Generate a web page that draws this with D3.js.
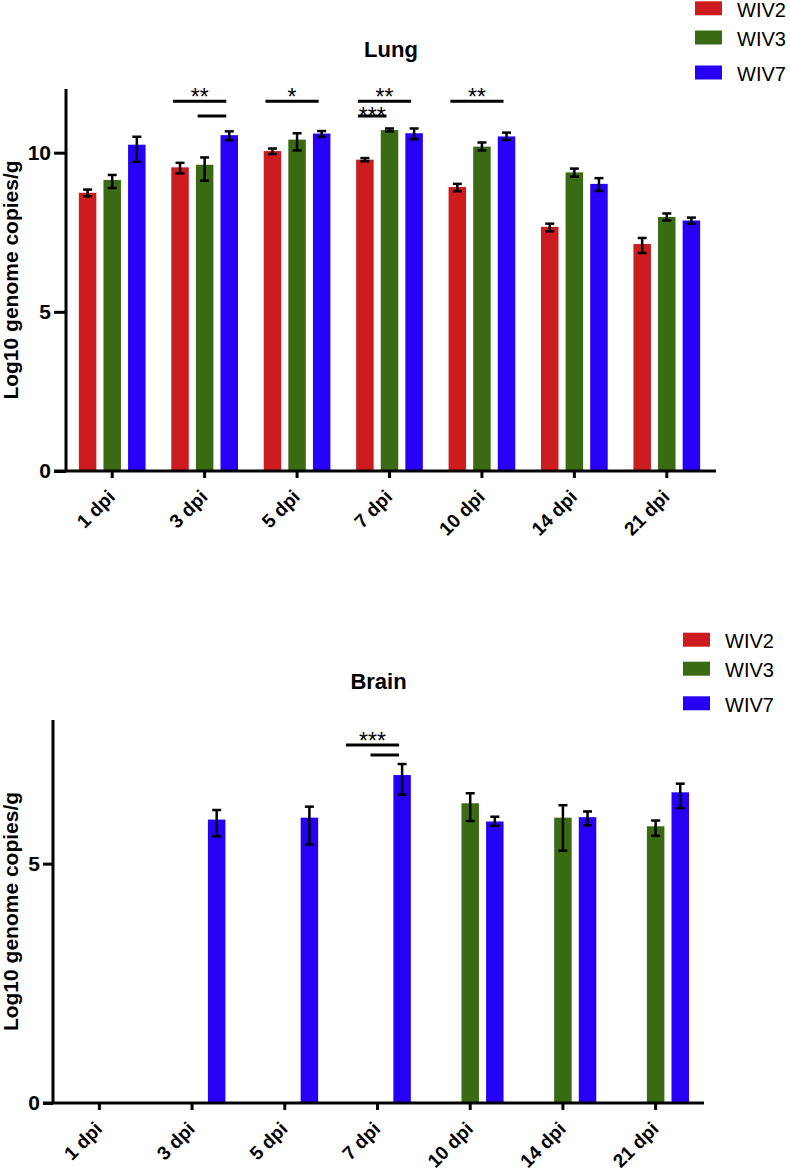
<!DOCTYPE html>
<html><head><meta charset="utf-8">
<script src="https://cdn.jsdelivr.net/npm/d3@7"></script>
<style>
body{margin:0;background:#fff}
svg{display:block}
text{font-family:"Liberation Sans",Arial,Helvetica,sans-serif;fill:#000}
</style>
</head><body>
<svg id="chart" width="790" height="1173"></svg>
<script>
// ---------- data ----------
const categories = ["1 dpi","3 dpi","5 dpi","7 dpi","10 dpi","14 dpi","21 dpi"];
const seriesNames = ["WIV2","WIV3","WIV7"];
const seriesColors = ["#cc1c1f","#3a6b13","#2700f7"];
const yTicksLung = [0,5,10];
const yTicksBrain = [0,5];
const yLabel = "Log10 genome copies/g";

// Lung: bar means, error-bar lower and upper ends
const lungWIV2   = [8.74, 9.54, 10.05, 9.78, 8.92, 7.67, 7.13];
const lungWIV2Lo = [8.63, 9.35, 9.96, 9.73, 8.79, 7.53, 6.85];
const lungWIV2Hi = [8.84, 9.68, 10.13, 9.83, 9.02, 7.77, 7.32];
const lungWIV3   = [9.14, 9.62, 10.41, 10.71, 10.19, 9.38, 7.98];
const lungWIV3Lo = [8.89, 9.12, 10.07, 10.67, 10.07, 9.25, 7.87];
const lungWIV3Hi = [9.30, 9.85, 10.61, 10.76, 10.32, 9.50, 8.09];
const lungWIV7   = [10.25, 10.55, 10.60, 10.61, 10.51, 9.02, 7.87];
const lungWIV7Lo = [9.71, 10.39, 10.50, 10.42, 10.40, 8.80, 7.77];
const lungWIV7Hi = [10.50, 10.67, 10.68, 10.76, 10.63, 9.20, 7.96];

// Brain (null = not detected)
const brainWIV2   = [null, null, null, null, null, null, null];
const brainWIV2Lo = [null, null, null, null, null, null, null];
const brainWIV2Hi = [null, null, null, null, null, null, null];
const brainWIV3   = [null, null, null, null, 6.26, 5.96, 5.78];
const brainWIV3Lo = [null, null, null, null, 5.89, 5.27, 5.58];
const brainWIV3Hi = [null, null, null, null, 6.47, 6.22, 5.90];
const brainWIV7   = [null, 5.92, 5.96, 6.85, 5.88, 5.97, 6.49];
const brainWIV7Lo = [null, 5.57, 5.40, 6.44, 5.79, 5.80, 6.16];
const brainWIV7Hi = [null, 6.12, 6.19, 7.08, 5.98, 6.09, 6.67];

// significance brackets: category, from-series, to-series, tier, label
const lungSig = [
  {cat:"3 dpi",  from:"WIV2", to:"WIV7", tier:0, label:"**"},
  {cat:"3 dpi",  from:"WIV3", to:"WIV7", tier:1, label:""},
  {cat:"5 dpi",  from:"WIV2", to:"WIV7", tier:0, label:"*"},
  {cat:"7 dpi",  from:"WIV2", to:"WIV7", tier:0, label:"**"},
  {cat:"7 dpi",  from:"WIV2", to:"WIV3", tier:1, label:"***"},
  {cat:"10 dpi", from:"WIV2", to:"WIV7", tier:0, label:"**"}
];
const brainSig = [
  {cat:"7 dpi", from:"WIV2", to:"WIV7", tier:0, label:"***"},
  {cat:"7 dpi", from:"WIV3", to:"WIV7", tier:1, label:""}
];

// ---------- drawing ----------
const svg = d3.select("#chart");
const FF = '"Liberation Sans",Arial,Helvetica,sans-serif';

function panel(o) {
  const g = svg.append("g");
  const x = d3.scaleBand().domain(categories).range([o.x0, o.x1]);
  const xs = d3.scaleBand().domain(seriesNames).range([-33.35, 33.35]).paddingInner(0.289);
  const y = d3.scaleLinear().domain([0, o.yMax]).range([o.yBottom, o.yTop]);
  const cx = c => x(c) + x.bandwidth() / 2;
  const sx = s => xs(s) + xs.bandwidth() / 2;

  // bars
  seriesNames.forEach((s, si) => {
    const rows = categories.map((c, i) => ({c, v: o.means[si][i], lo: o.lo[si][i], hi: o.hi[si][i]}))
      .filter(d => d.v != null);
    g.append("g").selectAll("rect").data(rows).join("rect")
      .attr("x", d => cx(d.c) + xs(s))
      .attr("y", d => y(d.v))
      .attr("width", xs.bandwidth())
      .attr("height", d => y(0) - y(d.v))
      .attr("fill", seriesColors[si]);
    const eb = g.append("g").attr("stroke", "#000").attr("stroke-width", 2.5).attr("fill", "none");
    rows.forEach(d => {
      const px = cx(d.c) + sx(s);
      eb.append("line").attr("x1", px).attr("x2", px).attr("y1", y(d.lo)).attr("y2", y(d.hi));
      eb.append("line").attr("x1", px - 4.5).attr("x2", px + 4.5).attr("y1", y(d.lo)).attr("y2", y(d.lo));
      eb.append("line").attr("x1", px - 4.5).attr("x2", px + 4.5).attr("y1", y(d.hi)).attr("y2", y(d.hi));
    });
  });

  // y axis
  const ya = g.append("g").attr("transform", `translate(${o.x0},0)`)
    .call(d3.axisLeft(y).tickValues(o.ticks).tickSize(o.tickLen).tickPadding(3).tickSizeOuter(0));
  ya.select(".domain").attr("d", `M0,${o.yBottom}V${o.yTop}`).attr("stroke-width", 3);
  ya.selectAll(".tick line").attr("stroke-width", 3);
  ya.selectAll(".tick text").attr("font-size", 21).attr("font-weight", "bold").attr("font-family", FF);

  // x axis
  const xa = g.append("g").attr("transform", `translate(0,${o.yBottom})`)
    .call(d3.axisBottom(x).tickSize(7).tickSizeOuter(0));
  xa.select(".domain").attr("d", `M${o.x0 - o.tickLen},0H${o.axisRight}`).attr("stroke-width", 3);
  xa.selectAll(".tick line").attr("stroke-width", 3);
  xa.selectAll(".tick text")
    .attr("font-size", 19).attr("font-weight", "bold").attr("font-family", FF)
    .attr("text-anchor", "end").attr("x", 0).attr("y", 0).attr("dy", null)
    .attr("transform", "translate(4,27) rotate(-45)");

  // y label
  g.append("text")
    .attr("transform", `translate(18,${(o.yTop + o.yBottom) / 2}) rotate(-90)`)
    .attr("text-anchor", "middle").attr("font-size", 21).attr("font-weight", "bold")
    .text(yLabel);

  // title
  g.append("text").attr("x", (o.x0 + o.axisRight) / 2).attr("y", o.titleY)
    .attr("text-anchor", "middle").attr("font-size", 22).attr("font-weight", "bold")
    .text(o.title);

  // significance
  o.sig.forEach(d => {
    const xa1 = cx(d.cat) + sx(d.from) - 7;
    const xb1 = cx(d.cat) + sx(d.to) - 3;
    const ly = o.sigY[d.tier];
    g.append("line").attr("x1", xa1).attr("x2", xb1).attr("y1", ly).attr("y2", ly)
      .attr("stroke", "#000").attr("stroke-width", 3);
    if (d.label) {
      g.append("text").attr("x", (xa1 + xb1) / 2).attr("y", ly + (d.tier === 0 ? 3.8 : 8.3))
        .attr("text-anchor", "middle").attr("font-size", 23).text(d.label);
    }
  });

  // legend
  seriesNames.forEach((s, i) => {
    const cy = o.legendY[i];
    g.append("rect").attr("x", o.legendX).attr("y", cy - 7).attr("width", 27).attr("height", 14)
      .attr("fill", seriesColors[i]);
    g.append("text").attr("x", o.legendX + 42).attr("y", cy + 1.5)
      .attr("dominant-baseline", "central").attr("font-size", 20).text(s);
  });
}

panel({
  x0: 66, x1: 713, axisRight: 716, yTop: 89, yBottom: 471, yMax: 12, tickLen: 12,
  ticks: yTicksLung, title: "Lung", titleY: 57,
  means: [lungWIV2, lungWIV3, lungWIV7], lo: [lungWIV2Lo, lungWIV3Lo, lungWIV7Lo], hi: [lungWIV2Hi, lungWIV3Hi, lungWIV7Hi],
  sig: lungSig, sigY: [101.3, 116], legendX: 695, legendY: [8.3, 37.5, 72.5]
});

panel({
  x0: 53, x1: 702, axisRight: 704, yTop: 720, yBottom: 1103, yMax: 8, tickLen: 10,
  ticks: yTicksBrain, title: "Brain", titleY: 689,
  means: [brainWIV2, brainWIV3, brainWIV7], lo: [brainWIV2Lo, brainWIV3Lo, brainWIV7Lo], hi: [brainWIV2Hi, brainWIV3Hi, brainWIV7Hi],
  sig: brainSig, sigY: [745, 755], legendX: 683, legendY: [639.7, 668.7, 703.3]
});
</script>
</body></html>
